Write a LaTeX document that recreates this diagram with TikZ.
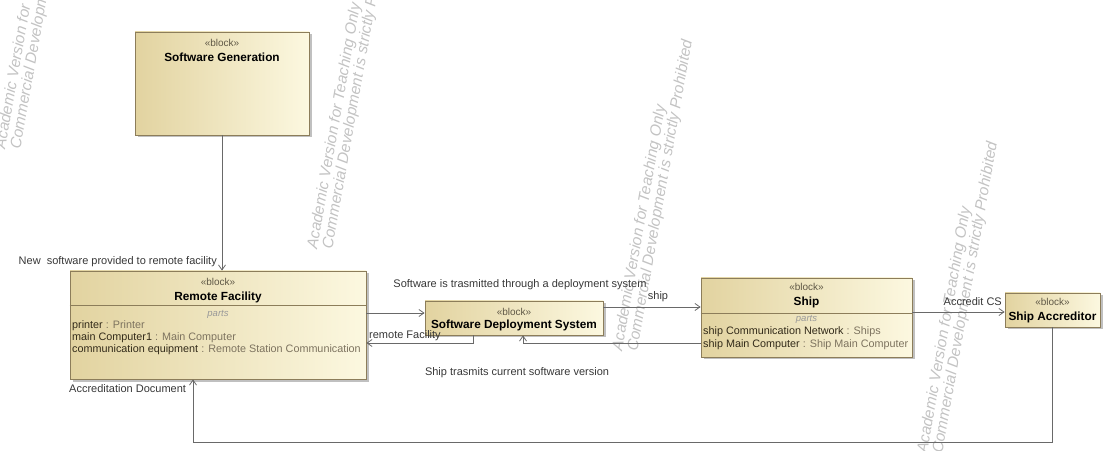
\documentclass[tikz,border=0pt]{standalone}
\usepackage{fontspec}
\setmainfont{Liberation Sans}
\usetikzlibrary{arrows.meta,shadows,calc}

\definecolor{blkA}{RGB}{226,211,160}
\definecolor{blkB}{RGB}{252,248,224}
\definecolor{blkEdge}{RGB}{140,125,90}
\definecolor{wire}{RGB}{105,105,105}
\definecolor{labelInk}{RGB}{55,55,55}
\definecolor{stereoInk}{RGB}{95,88,70}
\definecolor{typeInk}{RGB}{125,115,95}
\definecolor{partInk}{RGB}{50,42,25}
\definecolor{wmInk}{RGB}{195,195,195}

\tikzset{
  blockbox/.style={draw=blkEdge, line width=0.8pt, left color=blkA, right color=blkB,
    drop shadow={shadow xshift=2.5pt, shadow yshift=-2.5pt, fill=black!45, opacity=0.55},
    inner sep=0pt},
  stereo/.style={font=\fontsize{10}{12}\selectfont, text=stereoInk, inner sep=0pt},
  blktitle/.style={font=\fontsize{11.8}{13}\selectfont\bfseries, inner sep=0pt},
  partshdr/.style={font=\fontsize{9.5}{11}\selectfont\itshape, text=black!40, inner sep=0pt},
  partline/.style={font=\fontsize{10.8}{12}\selectfont, anchor=west, inner sep=0pt},
  lbl/.style={font=\fontsize{11}{13}\selectfont, text=labelInk, inner sep=0pt},
  conn/.style={draw=wire, line width=0.8pt, -{Straight Barb[length=5pt,width=7pt]}},
  wmtext/.style={font=\fontsize{15.5}{17}\selectfont\itshape, text=wmInk, anchor=base west, inner sep=0pt},
}

\begin{document}
\begin{tikzpicture}[x=1pt, y=1pt]
\useasboundingbox (0,0) rectangle (1103,450);
\clip (0,0) rectangle (1103,450);

% tool watermark, repeated diagonally
\foreach \px/\py in {5/300, 317/200, 622/98, 927/-4} {
  \begin{scope}[shift={(\px,\py)}, rotate=80, transform shape]
    \node[wmtext] (wmA\px) at (0,0) {Academic Version for Teaching Only};
    \node[wmtext] (wmB\px) at (2.6,-15) {Commercial Development is strictly Prohibited};
  \end{scope}
}

% Software Generation
\node[blockbox, minimum width=174pt, minimum height=103pt] (sg) at (222,366.5) {};
\node[stereo] (sgS) at (222,407) {«block»};
\node[blktitle] (sgT) at (222,393) {Software Generation};

% Remote Facility
\node[blockbox, minimum width=296pt, minimum height=108pt] (rf) at (218,125) {};
\node[stereo] (rfS) at (218,168) {«block»};
\node[blktitle] (rfT) at (218,153) {Remote Facility};
\draw[blkEdge, line width=0.6pt] ([yshift=20pt]rf.west) -- ([yshift=20pt]rf.east);
\node[partshdr] (rfP) at (218,136) {parts};
\node[partline] (rfL1) at (72,124) {\textcolor{partInk}{printer} \textcolor{typeInk}{: Printer}};
\node[partline] (rfL2) at (72,112) {\textcolor{partInk}{main Computer1} \textcolor{typeInk}{: Main Computer}};
\node[partline] (rfL3) at (72,100) {\textcolor{partInk}{communication equipment} \textcolor{typeInk}{: Remote Station Communication}};

% Software Deployment System
\node[blockbox, minimum width=178pt, minimum height=34pt] (sds) at (514,132) {};
\node[stereo] (sdsS) at (514,138) {«block»};
\node[blktitle] (sdsT) at (514,125) {Software Deployment System};

% Ship
\node[blockbox, minimum width=211pt, minimum height=79pt] (ship) at (806.5,132.5) {};
\node[stereo] (shipS) at (806.5,163) {«block»};
\node[blktitle] (shipT) at (806.5,148) {Ship};
\draw[blkEdge, line width=0.6pt] ([yshift=4.5pt]ship.west) -- ([yshift=4.5pt]ship.east);
\node[partshdr] (shipP) at (806.5,131) {parts};
\node[partline] (shipL1) at (703,118) {\textcolor{partInk}{ship Communication Network} \textcolor{typeInk}{: Ships}};
\node[partline] (shipL2) at (703,105) {\textcolor{partInk}{ship Main Computer} \textcolor{typeInk}{: Ship Main Computer}};

% Ship Accreditor
\node[blockbox, minimum width=95pt, minimum height=34pt] (sa) at (1052.5,140) {};
\node[stereo] (saS) at (1052.5,148) {«block»};
\node[blktitle] (saT) at (1052.5,133) {Ship Accreditor};

% flows
\draw[conn] (sg.south) -- (sg.south |- rf.north);
\draw[conn] ([yshift=12pt]rf.east) -- ([yshift=5pt]sds.west);
\draw[conn] ([xshift=-41pt]sds.south) |- ([yshift=-18pt]rf.east);
\draw[conn] ([yshift=11pt]sds.east) -- ([yshift=11pt]sds.east -| ship.west);
\draw[conn] ([yshift=-25.5pt]ship.west) -| ([xshift=9pt]sds.south);
\draw[conn] ([yshift=5.5pt]ship.east) -- ([yshift=5.5pt]ship.east -| sa.west);
\coordinate (loopY) at (0,8);
\draw[conn] (sa.south) -- (sa.south |- loopY) -- ([xshift=-25pt]rf.south |- loopY) -- ([xshift=-25pt]rf.south);

% flow labels
\node[lbl, anchor=base east] (l1) at (217,185) {New\ \ software provided to remote facility};
\node[lbl] (l2) at (520,165) {Software is trasmitted through a deployment system};
\node[lbl, anchor=west] (l3) at (369,114) {remote Facility};
\node[lbl] (l4) at (658,153) {ship};
\node[lbl] (l5) at (517,77) {Ship trasmits current software version};
\node[lbl, anchor=east] (l6) at (1002,148) {Accredit CS};
\node[lbl, anchor=west] (l7) at (69,61) {Accreditation Document};
\end{tikzpicture}
\end{document}
